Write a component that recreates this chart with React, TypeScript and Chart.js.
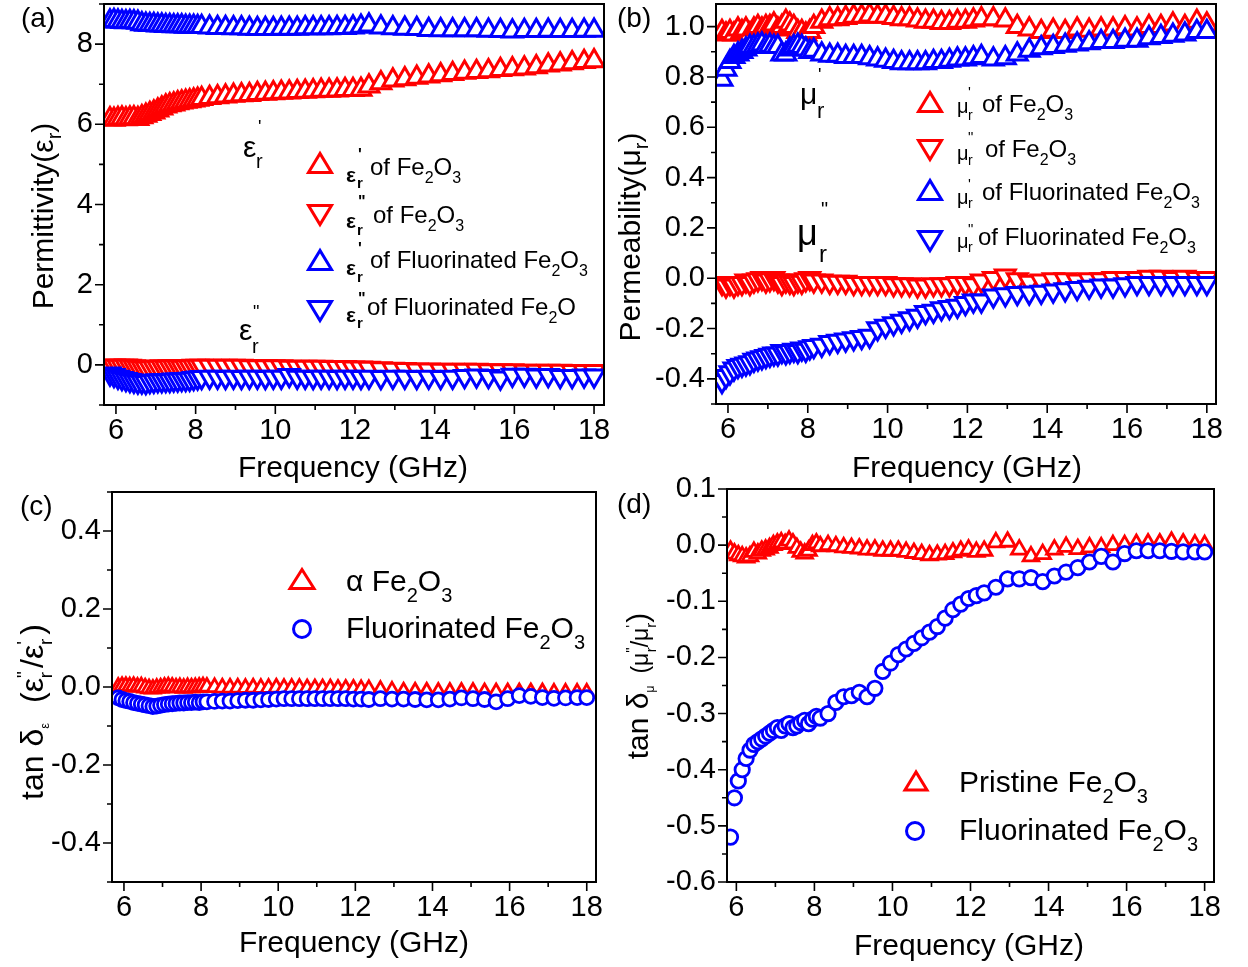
import React, { useEffect, useRef } from "react";
import { Chart, registerables } from "chart.js";
Chart.register(...registerables);

// ---------------- data ----------------
const freq = [
  5.85, 5.95, 6.05, 6.15, 6.25, 6.35, 6.45, 6.55, 6.65, 6.75, 6.85, 6.95, 7.05, 7.15, 7.25, 7.35, 7.45, 7.55, 7.65, 7.75, 7.85, 7.95, 8.05, 8.15,
  8.35, 8.55, 8.75, 8.95, 9.15, 9.35, 9.55, 9.75, 9.95, 10.15, 10.35, 10.55, 10.75, 10.95, 11.15, 11.35, 11.55, 11.75, 11.95, 12.15, 12.35,
  12.65, 12.95, 13.25, 13.55, 13.85, 14.15, 14.45, 14.75, 15.05, 15.35, 15.65, 15.95, 16.25, 16.55, 16.85, 17.15, 17.45, 17.75, 18.0,
];

// (a) permittivity
const epsRealFe2O3 = [
  6.13, 6.12, 6.14, 6.15, 6.13, 6.15, 6.16, 6.14, 6.18, 6.22, 6.26, 6.3, 6.35, 6.4, 6.45, 6.48, 6.5, 6.53, 6.55, 6.57, 6.58, 6.6, 6.62, 6.64,
  6.66, 6.68, 6.7, 6.72, 6.73, 6.74, 6.76, 6.77, 6.78, 6.79, 6.8, 6.81, 6.82, 6.83, 6.84, 6.84, 6.85, 6.86, 6.86, 6.87, 6.95,
  7.03, 7.1, 7.13, 7.17, 7.2, 7.23, 7.26, 7.29, 7.31, 7.33, 7.36, 7.38, 7.4, 7.43, 7.47, 7.5, 7.53, 7.56, 7.58,
];
const epsImagFe2O3 = [
  -0.03, -0.02, -0.03, -0.03, -0.02, -0.03, -0.04, -0.05, -0.06, -0.07, -0.06, -0.05, -0.05, -0.04, -0.05, -0.04, -0.04, -0.04, -0.05, -0.04, -0.04, -0.03, -0.03, -0.03,
  -0.03, -0.03, -0.03, -0.03, -0.03, -0.04, -0.04, -0.04, -0.04, -0.04, -0.05, -0.05, -0.05, -0.05, -0.05, -0.06, -0.06, -0.06, -0.07, -0.07, -0.08,
  -0.09, -0.1, -0.11, -0.12, -0.12, -0.13, -0.13, -0.13, -0.13, -0.14, -0.14, -0.14, -0.15, -0.15, -0.15, -0.15, -0.16, -0.16, -0.16,
];
const epsRealFluor = [
  8.57, 8.58, 8.57, 8.56, 8.55, 8.56, 8.55, 8.54, 8.5, 8.49, 8.48, 8.48, 8.47, 8.47, 8.46, 8.46, 8.45, 8.45, 8.45, 8.44, 8.44, 8.44, 8.43, 8.43,
  8.42, 8.41, 8.41, 8.4, 8.4, 8.39, 8.38, 8.38, 8.38, 8.39, 8.39, 8.39, 8.4, 8.4, 8.4, 8.4, 8.41, 8.41, 8.42, 8.44, 8.47,
  8.42, 8.4, 8.39, 8.38, 8.36, 8.35, 8.35, 8.35, 8.35, 8.34, 8.33, 8.32, 8.33, 8.33, 8.34, 8.33, 8.33, 8.34, 8.34,
];
const epsImagFluor = [
  -0.22, -0.26, -0.3, -0.33, -0.36, -0.38, -0.4, -0.42, -0.42, -0.43, -0.41, -0.4, -0.39, -0.39, -0.38, -0.38, -0.37, -0.37, -0.36, -0.36, -0.35, -0.33, -0.32, -0.31,
  -0.3, -0.3, -0.31, -0.3, -0.31, -0.3, -0.3, -0.31, -0.3, -0.3, -0.26, -0.3, -0.3, -0.31, -0.3, -0.3, -0.31, -0.3, -0.3, -0.31, -0.3,
  -0.31, -0.3, -0.3, -0.31, -0.3, -0.31, -0.3, -0.28, -0.27, -0.28, -0.32, -0.25, -0.25, -0.27, -0.26, -0.28, -0.28, -0.27, -0.27,
];

// (b) permeability
const muRealFe2O3 = [
  0.98, 0.97, 0.98, 0.97, 0.99, 0.98, 0.99, 0.97, 0.99, 1.0, 0.99, 1.0, 1.0, 1.01, 0.99, 1.0, 1.02, 1.01, 1.0, 0.98, 0.98, 0.97, 0.98, 1.0,
  1.02, 1.03, 1.03, 1.035, 1.04, 1.04, 1.045, 1.04, 1.04, 1.035, 1.03, 1.03, 1.025, 1.02, 1.02, 1.015, 1.015, 1.02, 1.02, 1.025, 1.03,
  1.03, 1.025, 1.0, 0.99, 0.98, 0.985, 0.98, 0.99, 0.985, 0.99, 0.99, 0.995, 0.99, 1.0, 1.0, 1.01, 1.0, 1.02, 1.01,
];
const muImagFe2O3 = [
  -0.02, -0.03, -0.02, -0.03, -0.02, -0.02, -0.01, -0.02, -0.01, -0.005, 0.0, -0.01, -0.005, 0.0, -0.01, -0.02, -0.01, -0.015, -0.02, -0.01, -0.015, -0.005, 0.0, -0.01,
  -0.01, -0.015, -0.015, -0.015, -0.02, -0.02, -0.02, -0.02, -0.02, -0.025, -0.025, -0.025, -0.03, -0.03, -0.025, -0.025, -0.025, -0.02, -0.02, -0.025, -0.01,
  0.0, 0.01, -0.005, -0.015, -0.01, -0.005, -0.005, -0.01, -0.005, -0.005, 0.0, 0.0, 0.0, 0.005, 0.005, 0.0, 0.005, 0.0, 0.0,
];
const muRealFluor = [
  0.79, 0.83, 0.86, 0.88, 0.89, 0.9, 0.91, 0.92, 0.92, 0.925, 0.93, 0.92, 0.925, 0.92, 0.92, 0.89, 0.89, 0.91, 0.92, 0.925, 0.92, 0.91, 0.9, 0.905,
  0.89, 0.885, 0.885, 0.88, 0.88, 0.88, 0.875, 0.87, 0.865, 0.86, 0.855, 0.855, 0.855, 0.855, 0.86, 0.86, 0.865, 0.87, 0.87, 0.875, 0.88,
  0.87, 0.875, 0.89, 0.905, 0.915, 0.92, 0.925, 0.93, 0.935, 0.94, 0.94, 0.945, 0.945, 0.955, 0.96, 0.965, 0.97, 0.98, 0.98,
];
const muImagFluor = [
  -0.41, -0.39, -0.375, -0.36, -0.35, -0.345, -0.34, -0.335, -0.325, -0.32, -0.315, -0.31, -0.305, -0.3, -0.3, -0.29, -0.295, -0.29, -0.285, -0.29, -0.28, -0.285, -0.275, -0.27,
  -0.265, -0.255, -0.25, -0.245, -0.24, -0.235, -0.23, -0.2, -0.19, -0.18, -0.17, -0.16, -0.15, -0.135, -0.13, -0.12, -0.115, -0.11, -0.1, -0.09, -0.09,
  -0.07, -0.065, -0.06, -0.058, -0.055, -0.05, -0.045, -0.04, -0.035, -0.03, -0.03, -0.025, -0.02, -0.02, -0.02, -0.02, -0.02, -0.02, -0.02,
];

// (c) dielectric loss tangent
const tanEpsFe2O3 = [
  0.0, 0.002, 0.002, 0.001, 0.002, 0.0, 0.001, -0.002, -0.004, -0.005, -0.003, -0.002, 0.0, 0.001, 0.0, -0.002, -0.001, -0.003, -0.001, -0.002, -0.001, 0.0, 0.001, 0.0,
  -0.001, -0.002, -0.002, -0.002, -0.003, -0.002, -0.003, -0.003, -0.002, -0.003, -0.003, -0.003, -0.004, -0.004, -0.004, -0.004, -0.005, -0.005, -0.005, -0.006, -0.006,
  -0.008, -0.01, -0.012, -0.012, -0.012, -0.013, -0.013, -0.013, -0.013, -0.014, -0.014, -0.014, -0.014, -0.014, -0.014, -0.015, -0.015, -0.015, -0.015,
];
const tanEpsFluor = [
  -0.028, -0.032, -0.035, -0.037, -0.04, -0.042, -0.044, -0.046, -0.048, -0.05, -0.049, -0.047, -0.045, -0.044, -0.043, -0.042, -0.041, -0.041, -0.04, -0.04, -0.039, -0.04, -0.038, -0.038,
  -0.037, -0.036, -0.036, -0.035, -0.034, -0.034, -0.033, -0.032, -0.031, -0.03, -0.03, -0.03, -0.03, -0.03, -0.03, -0.03, -0.03, -0.03, -0.031, -0.031, -0.032,
  -0.03, -0.031, -0.031, -0.032, -0.033, -0.033, -0.031, -0.028, -0.03, -0.032, -0.038, -0.03, -0.022, -0.024, -0.027, -0.029, -0.028, -0.027, -0.027,
];

// (d) magnetic loss tangent
const tanMuFe2O3 = [
  -0.01, -0.015, -0.018, -0.02, -0.022, -0.02, -0.012, -0.015, -0.01, -0.008, -0.005, 0.0, 0.003, 0.005, 0.002, 0.008, 0.003, -0.005, -0.012, -0.015, -0.01, 0.0, 0.003, -0.002,
  0.0, -0.002, -0.004, -0.005, -0.006, -0.008, -0.008, -0.01, -0.01, -0.01, -0.012, -0.014, -0.016, -0.018, -0.017, -0.016, -0.013, -0.01, -0.008, -0.012, -0.01,
  0.005, 0.006, -0.008, -0.02, -0.016, -0.008, -0.003, -0.007, -0.004, -0.004, 0.0, 0.0, 0.002, 0.003, 0.003, 0.006, 0.003, 0.001, 0.0,
];
const tanMuFluor = [
  -0.52, -0.45, -0.42, -0.4, -0.38, -0.365, -0.355, -0.35, -0.345, -0.34, -0.335, -0.33, -0.325, -0.33, -0.322, -0.318, -0.325, -0.322, -0.316, -0.312, -0.318, -0.31, -0.305, -0.308,
  -0.3, -0.28, -0.27, -0.268, -0.262, -0.27, -0.255, -0.225, -0.21, -0.195, -0.185, -0.175, -0.165, -0.155, -0.145, -0.13, -0.115, -0.105, -0.095, -0.09, -0.085,
  -0.075, -0.06, -0.06, -0.058, -0.065, -0.055, -0.048, -0.04, -0.03, -0.02, -0.03, -0.015, -0.01, -0.01, -0.01, -0.011, -0.012, -0.012, -0.012,
];

// tick labels
const xTicks = [6, 8, 10, 12, 14, 16, 18];
const yTicksA = [0, 2, 4, 6, 8];
const yTicksB = [-0.4, -0.2, 0.0, 0.2, 0.4, 0.6, 0.8, 1.0];
const yTicksC = [-0.4, -0.2, 0.0, 0.2, 0.4];
const yTicksD = [-0.6, -0.5, -0.4, -0.3, -0.2, -0.1, 0.0, 0.1];

// ---------------- layout / style ----------------
const FONT = "'Liberation Sans', Arial, Helvetica, sans-serif";
const RED = "#ff0000";
const BLUE = "#0000ff";
const OFF = 100;
const PAGE_W = 1248;
const PAGE_H = 967;
const CW = PAGE_W + 2 * OFF;
const CH = PAGE_H + 2 * OFF;
const YW = 90;
const XH = 60;

type Series = { label: string; values: number[]; color: string; style: "up" | "down" | "circle"; r: number; bw: number; order: number };
type PanelCfg = {
  area: [number, number, number, number];
  xMin: number; xMax: number; yMin: number; yMax: number;
  yTicks: number[]; decimals: number; series: Series[];
};

function minorTicks(major: number[], min: number, max: number) {
  const step = major[1] - major[0];
  const out: number[] = [];
  for (let k = -1; k < major.length; k++) {
    const v = major[0] + step * (k + 0.5);
    if (v >= min - 1e-9 && v <= max + 1e-9) out.push(v);
  }
  return out;
}

const panels: PanelCfg[] = [
  {
    area: [104, 4, 604, 405], xMin: 5.7, xMax: 18.25, yMin: -1, yMax: 9, yTicks: yTicksA, decimals: 0,
    series: [
      { label: "eps' Fe2O3", values: epsRealFe2O3, color: RED, style: "up", r: 11.5, bw: 3, order: 1 },
      { label: "eps'' Fe2O3", values: epsImagFe2O3, color: RED, style: "down", r: 11.5, bw: 3, order: 1 },
      { label: "eps' Fluorinated", values: epsRealFluor, color: BLUE, style: "up", r: 11.5, bw: 3, order: 0 },
      { label: "eps'' Fluorinated", values: epsImagFluor, color: BLUE, style: "down", r: 11.5, bw: 3, order: 0 },
    ],
  },
  {
    area: [716, 4, 1216, 404], xMin: 5.7, xMax: 18.23, yMin: -0.5, yMax: 1.09, yTicks: yTicksB, decimals: 1,
    series: [
      { label: "mu' Fe2O3", values: muRealFe2O3, color: RED, style: "up", r: 11.5, bw: 3, order: 1 },
      { label: "mu'' Fe2O3", values: muImagFe2O3, color: RED, style: "down", r: 11.5, bw: 3, order: 1 },
      { label: "mu' Fluorinated", values: muRealFluor, color: BLUE, style: "up", r: 11.5, bw: 3, order: 0 },
      { label: "mu'' Fluorinated", values: muImagFluor, color: BLUE, style: "down", r: 11.5, bw: 3, order: 0 },
    ],
  },
  {
    area: [112, 492, 596, 882], xMin: 5.69, xMax: 18.24, yMin: -0.5, yMax: 0.5, yTicks: yTicksC, decimals: 1,
    series: [
      { label: "alpha Fe2O3", values: tanEpsFe2O3, color: RED, style: "up", r: 8.5, bw: 2.8, order: 1 },
      { label: "Fluorinated Fe2O3", values: tanEpsFluor, color: BLUE, style: "circle", r: 7, bw: 2.8, order: 0 },
    ],
  },
  {
    area: [727, 489, 1214, 882], xMin: 5.76, xMax: 18.24, yMin: -0.6, yMax: 0.1, yTicks: yTicksD, decimals: 1,
    series: [
      { label: "Pristine Fe2O3", values: tanMuFe2O3, color: RED, style: "up", r: 9, bw: 2.8, order: 1 },
      { label: "Fluorinated Fe2O3", values: tanMuFluor, color: BLUE, style: "circle", r: 7.2, bw: 2.8, order: 0 },
    ],
  },
];

function PanelChart({ cfg }: { cfg: PanelCfg }) {
  const ref = useRef<HTMLCanvasElement>(null);
  useEffect(() => {
    if (!ref.current) return;
    const [l, t, r, b] = cfg.area;
    const xMinor = minorTicks(xTicks, cfg.xMin, cfg.xMax);
    const yMinor = minorTicks(cfg.yTicks, cfg.yMin, cfg.yMax);
    const frame = {
      id: "frame",
      afterDraw(chart: any) {
        const { ctx, chartArea: a, scales } = chart;
        const xs = scales.x;
        const ys = scales.y;
        ctx.save();
        ctx.strokeStyle = "#000";
        ctx.lineWidth = 1.6;
        ctx.beginPath();
        const seg = (x1: number, y1: number, x2: number, y2: number) => { ctx.moveTo(x1, y1); ctx.lineTo(x2, y2); };
        xTicks.forEach((v) => { const p = xs.getPixelForValue(v); seg(p, a.bottom, p, a.bottom + 9); });
        xMinor.forEach((v) => { const p = xs.getPixelForValue(v); seg(p, a.bottom, p, a.bottom + 5); });
        cfg.yTicks.forEach((v) => { const p = ys.getPixelForValue(v); seg(a.left, p, a.left - 9, p); });
        yMinor.forEach((v) => { const p = ys.getPixelForValue(v); seg(a.left, p, a.left - 5, p); });
        ctx.stroke();
        ctx.lineWidth = 2;
        ctx.strokeRect(a.left, a.top, a.right - a.left, a.bottom - a.top);
        ctx.restore();
      },
    };
    const tickFont = { family: FONT, size: 29 };
    const chart = new Chart(ref.current, {
      type: "scatter",
      data: {
        datasets: cfg.series.map((s) => ({
          label: s.label,
          data: freq.map((f, i) => ({ x: f, y: s.values[i] })),
          pointStyle: s.style === "circle" ? "circle" : "triangle",
          rotation: s.style === "down" ? 180 : 0,
          pointRadius: s.r,
          pointBorderWidth: s.bw,
          borderColor: s.color,
          backgroundColor: "#ffffff",
          pointBorderColor: s.color,
          pointBackgroundColor: "#ffffff",
          showLine: false,
          order: s.order,
        })),
      },
      options: {
        responsive: false,
        animation: false,
        devicePixelRatio: 1,
        events: [],
        layout: {
          padding: {
            left: l + OFF - YW,
            top: t + OFF,
            right: CW - (r + OFF),
            bottom: CH - (b + OFF) - XH,
          },
        },
        plugins: { legend: { display: false }, tooltip: { enabled: false } },
        scales: {
          x: {
            type: "linear",
            min: cfg.xMin,
            max: cfg.xMax,
            afterBuildTicks: (s: any) => { s.ticks = xTicks.map((v) => ({ value: v })); },
            afterFit: (s: any) => { s.height = XH; },
            grid: { display: false, drawTicks: false },
            border: { display: false },
            ticks: {
              padding: 9, autoSkip: false, maxRotation: 0, minRotation: 0,
              font: tickFont, color: "#000",
              callback: (v: any) => String(v),
            },
          },
          y: {
            type: "linear",
            min: cfg.yMin,
            max: cfg.yMax,
            afterBuildTicks: (s: any) => { s.ticks = cfg.yTicks.map((v) => ({ value: v })); },
            afterFit: (s: any) => { s.width = YW; },
            grid: { display: false, drawTicks: false },
            border: { display: false },
            ticks: {
              padding: 11, autoSkip: false,
              font: tickFont, color: "#000",
              callback: (v: any) => Number(v).toFixed(cfg.decimals),
            },
          },
        },
      },
      plugins: [frame],
    } as any);
    return () => chart.destroy();
  }, [cfg]);
  return (
    <canvas
      ref={ref}
      width={CW}
      height={CH}
      style={{ position: "absolute", left: -OFF, top: -OFF, width: CW, height: CH }}
    />
  );
}

// ---------------- SVG text helpers ----------------
function TriUp({ cx, cy, w, h, color }: any) {
  return <polygon points={`${cx},${cy - h / 2} ${cx - w / 2},${cy + h / 2} ${cx + w / 2},${cy + h / 2}`} fill="#fff" stroke={color} strokeWidth={3} />;
}
function TriDown({ cx, cy, w, h, color }: any) {
  return <polygon points={`${cx - w / 2},${cy - h / 2} ${cx + w / 2},${cy - h / 2} ${cx},${cy + h / 2}`} fill="#fff" stroke={color} strokeWidth={3} />;
}
function Ring({ cx, cy, r, color }: any) {
  return <circle cx={cx} cy={cy} r={r} fill="#fff" stroke={color} strokeWidth={3} />;
}
function feo(sub: number, shift: number, three = true) {
  return [
    <tspan key="fe">Fe</tspan>,
    <tspan key="s2" fontSize={sub} dy={shift}>2</tspan>,
    <tspan key="o" dy={-shift}>O</tspan>,
    three ? <tspan key="s3" fontSize={sub} dy={shift}>3</tspan> : null,
  ];
}

const legendA = [
  { cy: 163, dir: "up", color: RED, eb: 182, pr: "'", py: 160, ry: 188, tx: 370, ty: 175, name: "", three: true },
  { cy: 215, dir: "down", color: RED, eb: 228, pr: '"', py: 207, ry: 235, tx: 373, ty: 223, name: "", three: true },
  { cy: 260, dir: "up", color: BLUE, eb: 275, pr: "'", py: 254, ry: 282, tx: 370, ty: 268, name: "Fluorinated ", three: true },
  { cy: 311, dir: "down", color: BLUE, eb: 322, pr: '"', py: 304, ry: 328, tx: 367, ty: 315, name: "Fluorinated ", three: false },
];
const legendB = [
  { cy: 102, dir: "up", color: RED, eb: 113, pr: "'", py: 97, ry: 120, tx: 982, ty: 112, name: "" },
  { cy: 150, dir: "down", color: RED, eb: 160, pr: '"', py: 142, ry: 165, tx: 985, ty: 157, name: "" },
  { cy: 190, dir: "up", color: BLUE, eb: 204, pr: "'", py: 189, ry: 208, tx: 982, ty: 200, name: "Fluorinated " },
  { cy: 241, dir: "down", color: BLUE, eb: 248, pr: '"', py: 234, ry: 252, tx: 978, ty: 245, name: "Fluorinated " },
];

function Overlay() {
  return (
    <svg width={PAGE_W} height={PAGE_H} style={{ position: "absolute", left: 0, top: 0 }} fontFamily={FONT} fill="#000">
      {/* panel labels */}
      <text x={21} y={27} fontSize={28}>(a)</text>
      <text x={617} y={27} fontSize={28}>(b)</text>
      <text x={20} y={515} fontSize={28}>(c)</text>
      <text x={617} y={513} fontSize={28}>(d)</text>

      {/* x titles */}
      <text x={353} y={477} fontSize={30} textAnchor="middle">Frequency (GHz)</text>
      <text x={967} y={477} fontSize={30} textAnchor="middle">Frequency (GHz)</text>
      <text x={354} y={952} fontSize={30} textAnchor="middle">Frequency (GHz)</text>
      <text x={969} y={955} fontSize={30} textAnchor="middle">Frequency (GHz)</text>

      {/* y titles */}
      <text transform="translate(53,216) rotate(-90)" fontSize={30} textAnchor="middle">
        Permittivity(ε<tspan fontSize={20} dy={8}>r</tspan><tspan dy={-8}>)</tspan>
      </text>
      <text transform="translate(640,237) rotate(-90)" fontSize={30} textAnchor="middle">
        Permeability(μ<tspan fontSize={20} dy={8}>r</tspan><tspan dy={-8}>)</tspan>
      </text>
      <text transform="translate(43,712) rotate(-90)" fontSize={32} textAnchor="middle">
        tan δ<tspan fontSize={13} dy={6}>ε</tspan>
        <tspan dx={20} dy={-6}>(ε</tspan>
        <tspan fontSize={19} dy={-13}>"</tspan>
        <tspan fontSize={19} dx={-7} dy={22}>r</tspan>
        <tspan dx={4} dy={-9}>/ε</tspan>
        <tspan fontSize={19} dy={-13}>'</tspan>
        <tspan fontSize={19} dx={-4} dy={22}>r</tspan>
        <tspan dx={4} dy={-9}>)</tspan>
      </text>
      <text transform="translate(648,686) rotate(-90)" fontSize={30} textAnchor="middle">
        tan δ<tspan fontSize={12} dy={6}>μ</tspan>
        <tspan dx={12} dy={-6} fontSize={23}>(μ</tspan>
        <tspan fontSize={15} dy={-12}>"</tspan>
        <tspan fontSize={15} dx={-5} dy={20}>r</tspan>
        <tspan dy={-8} fontSize={23}>/μ</tspan>
        <tspan fontSize={15} dy={-12}>'</tspan>
        <tspan fontSize={15} dx={-3} dy={20}>r</tspan>
        <tspan dy={-8}>)</tspan>
      </text>

      {/* panel (a) annotations */}
      <text x={243} y={157} fontSize={30}>ε</text>
      <text x={258} y={133} fontSize={18}>'</text>
      <text x={256} y={168} fontSize={20}>r</text>
      <text x={239} y={340} fontSize={30}>ε</text>
      <text x={253} y={318} fontSize={18}>"</text>
      <text x={252} y={353} fontSize={20}>r</text>

      {/* panel (a) legend */}
      {legendA.map((row, i) => (
        <g key={"la" + i}>
          {row.dir === "up" ? <TriUp cx={320} cy={row.cy} w={23} h={19} color={row.color} /> : <TriDown cx={320} cy={row.cy} w={23} h={19} color={row.color} />}
          <text x={346} y={row.eb} fontSize={21} fontWeight="bold">ε</text>
          <text x={358} y={row.py} fontSize={16} fontWeight="bold">{row.pr}</text>
          <text x={357} y={row.ry} fontSize={15} fontWeight="bold">r</text>
          <text x={row.tx} y={row.ty} fontSize={24}>of {row.name}{feo(16, 8, row.three)}</text>
        </g>
      ))}

      {/* panel (b) annotations */}
      <text x={800} y={104} fontSize={30}>μ</text>
      <text x={818} y={81} fontSize={18}>'</text>
      <text x={817} y={118} fontSize={22}>r</text>
      <text x={797} y={245} fontSize={36}>μ</text>
      <text x={821} y={216} fontSize={20}>"</text>
      <text x={819} y={262} fontSize={24}>r</text>

      {/* panel (b) legend */}
      {legendB.map((row, i) => (
        <g key={"lb" + i}>
          {row.dir === "up" ? <TriUp cx={930} cy={row.cy} w={23} h={19} color={row.color} /> : <TriDown cx={930} cy={row.cy} w={23} h={19} color={row.color} />}
          <text x={957} y={row.eb} fontSize={20}>μ</text>
          <text x={968} y={row.py} fontSize={15}>{row.pr}</text>
          <text x={968} y={row.ry} fontSize={14}>r</text>
          <text x={row.tx} y={row.ty} fontSize={24}>of {row.name}{feo(16, 8)}</text>
        </g>
      ))}

      {/* panel (c) legend */}
      <TriUp cx={302} cy={579} w={24} h={19} color={RED} />
      <Ring cx={302} cy={629} r={8.5} color={BLUE} />
      <text x={346} y={591} fontSize={30}>α {feo(20, 11)}</text>
      <text x={346} y={638} fontSize={30}>Fluorinated {feo(20, 11)}</text>

      {/* panel (d) legend */}
      <TriUp cx={916} cy={781} w={22} h={18} color={RED} />
      <Ring cx={915} cy={831} r={8.5} color={BLUE} />
      <text x={959} y={792} fontSize={30}>Pristine {feo(20, 11)}</text>
      <text x={959} y={840} fontSize={30}>Fluorinated {feo(20, 11)}</text>
    </svg>
  );
}

export default function App() {
  return (
    <div style={{ position: "absolute", left: 0, top: 0, width: PAGE_W, height: PAGE_H, overflow: "hidden", background: "#fff" }}>
      {panels.map((p, i) => (
        <PanelChart key={i} cfg={p} />
      ))}
      <Overlay />
    </div>
  );
}
